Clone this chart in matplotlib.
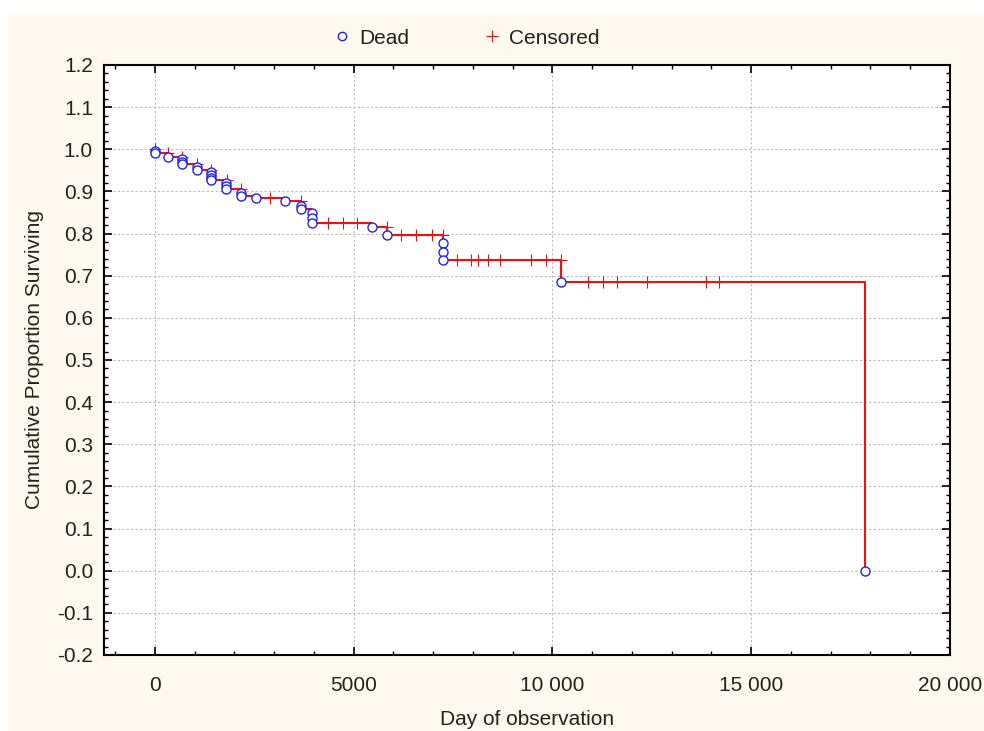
import matplotlib
matplotlib.use("Agg")
import matplotlib.pyplot as plt
from matplotlib.patches import Rectangle
from matplotlib.ticker import MultipleLocator, FuncFormatter
from matplotlib.lines import Line2D

# ------------------------------
# DATA
# ------------------------------
# step curve: day of each death and survival after it
step_days = [0, 0, 320, 670, 1047, 1400, 1800, 2160, 2540, 3270, 3670,
             3945, 5450, 5830, 7240, 10220, 17860]
step_surv = [1.0, 0.990, 0.981, 0.965, 0.950, 0.927, 0.905, 0.890, 0.884,
             0.877, 0.858, 0.825, 0.815, 0.797, 0.737, 0.685, 0.0]

dead_days = [0, 0, 320, 670, 670, 670, 1047, 1047, 1400, 1400, 1400, 1400,
             1800, 1800, 1800, 2160, 2160, 2540, 3270, 3670, 3670,
             3945, 3945, 3945, 5450, 5830, 7240, 7240, 7240, 10220, 17860]
dead_surv = [0.996, 0.990, 0.981, 0.976, 0.970, 0.965, 0.958, 0.950,
             0.946, 0.940, 0.933, 0.927, 0.920, 0.913, 0.905, 0.897, 0.890,
             0.884, 0.877, 0.866, 0.858, 0.848, 0.837, 0.825, 0.815, 0.797,
             0.777, 0.756, 0.737, 0.685, 0.0]

cens_days = [0, 330, 680, 1050, 1410, 1810, 2170, 2890, 3670,
             4350, 4720, 5080, 5830,
             6200, 6580, 6960, 7240,
             7610, 7960, 8140, 8370, 8670, 9470, 9850, 10220,
             10900, 11280, 11630, 12390, 13870, 14200]
cens_surv = [1.0, 0.990, 0.981, 0.965, 0.950, 0.927, 0.905, 0.884, 0.877,
             0.825, 0.825, 0.825, 0.815,
             0.797, 0.797, 0.797, 0.797,
             0.737, 0.737, 0.737, 0.737, 0.737, 0.737, 0.737, 0.737,
             0.685, 0.685, 0.685, 0.685, 0.685, 0.685]

# ------------------------------
# PLOT
# ------------------------------
plt.rcParams["font.family"] = ["Liberation Sans", "DejaVu Sans"]
plt.rcParams["axes.unicode_minus"] = False

FS = 15
TXT = "#222222"

fig = plt.figure(figsize=(9.84, 7.31), dpi=100, facecolor="white")
fig.patches.append(Rectangle((8 / 984, 0), 1, 1 - 13 / 731,
                             transform=fig.transFigure, facecolor="#fdf9ee",
                             edgecolor="none", zorder=-10))

ax = fig.add_axes([104 / 984, 1 - 655 / 731, (950 - 104) / 984, (655 - 65) / 731])
ax.set_facecolor("white")

ax.plot(step_days, step_surv, drawstyle="steps-post", color="#ee1111", lw=1.5, zorder=3)
ax.plot(cens_days, cens_surv, ls="none", marker="+", color="#ee1111",
        ms=8, mew=0.8, zorder=4)
ax.plot(dead_days, dead_surv, ls="none", marker="o", mfc="white", mec="#2222ee",
        ms=6.5, mew=1.0, zorder=5)

ax.set_xlim(-1280, 20000)
ax.set_ylim(-0.2, 1.2)
ax.xaxis.set_major_locator(MultipleLocator(5000))
ax.xaxis.set_minor_locator(MultipleLocator(1000))
ax.yaxis.set_major_locator(MultipleLocator(0.1))
ax.yaxis.set_minor_locator(MultipleLocator(0.02))


def fmt_x(v, pos):
    v = int(round(v))
    if abs(v) >= 10000:
        return f"{v:,}".replace(",", " ")
    return str(v)


ax.xaxis.set_major_formatter(FuncFormatter(fmt_x))
ax.yaxis.set_major_formatter(FuncFormatter(lambda v, p: f"{v:.1f}"))

ax.tick_params(which="both", direction="in", top=True, right=True,
               labelsize=FS, colors="black", labelcolor=TXT)
ax.tick_params(which="major", length=6, width=1.2)
ax.tick_params(which="minor", length=3, width=1.0)
ax.tick_params(axis="x", which="major", pad=15)
ax.tick_params(axis="y", which="major", pad=8)
for s in ax.spines.values():
    s.set_linewidth(1.5)

ax.grid(True, which="major", color="#bbbbbb", ls=(0, (2, 2)), lw=0.8)
ax.set_axisbelow(True)

ax.set_xlabel("Day of observation", fontsize=FS, color=TXT, labelpad=11)
ax.set_ylabel("Cumulative Proportion Surviving", fontsize=FS, color=TXT, labelpad=9)

handles = [
    Line2D([], [], ls="none", marker="o", mfc="white", mec="#2222ee", ms=6, mew=1.0),
    Line2D([], [], ls="none", marker="+", color="#ee1111", ms=8, mew=0.8),
]
fig.legend(handles, ["Dead", "Censored"], loc="center left",
           bbox_to_anchor=(332 / 984, 1 - 38 / 731),
           ncol=2, frameon=False, fontsize=FS, handlelength=1.0,
           handletextpad=0.3, columnspacing=3.5, borderpad=0, borderaxespad=0,
           labelcolor=TXT)

fig.savefig("out.png", dpi=100, facecolor=fig.get_facecolor())
